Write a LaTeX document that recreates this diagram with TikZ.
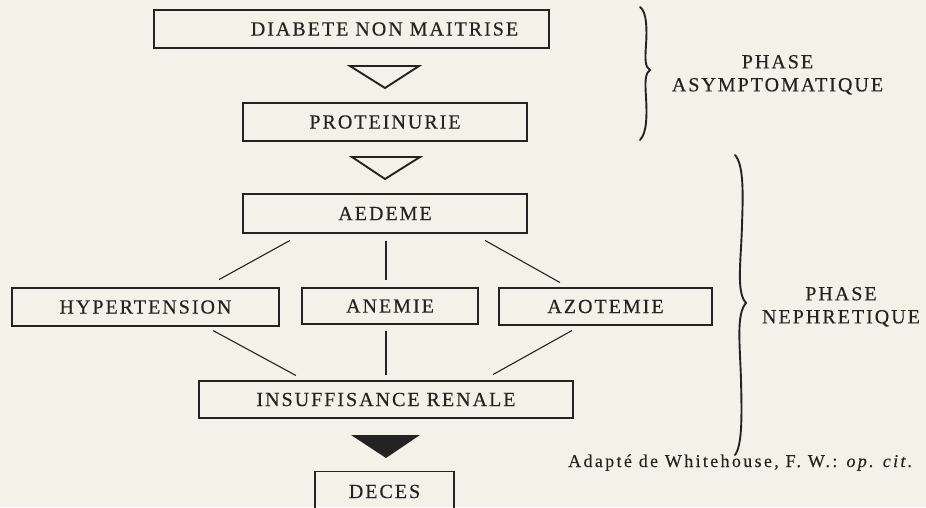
\documentclass[tikz,border=0pt]{standalone}
\usepackage{fontspec}
\setmainfont{Liberation Serif}
\newfontfamily\boxfont[LetterSpace=10,FakeBold=0.4]{Liberation Serif}
\newfontfamily\capfont[LetterSpace=13,FakeBold=0.3]{Liberation Serif}
\definecolor{paper}{RGB}{244,242,232}
\definecolor{ink}{RGB}{35,35,35}
\tikzset{
  box/.style={draw=ink, line width=1.2pt, rectangle, inner sep=0pt, text=ink,
    font=\boxfont\fontsize{20}{23}\selectfont},
  conn/.style={draw=ink, line width=1.1pt},
  tri/.style={draw=ink, line width=1.9pt, line join=miter},
  brace/.style={draw=ink, line width=1.9pt, line cap=round},
  phase/.style={text=ink, inner sep=0pt, anchor=base, font=\boxfont\fontsize{20}{23}\selectfont},
}
\begin{document}
\begin{tikzpicture}[x=1pt,y=-1pt]
\useasboundingbox (0,0) rectangle (926,507);
\fill[paper] (0,0) rectangle (926,507);

% boxes
\node[box, minimum width=395pt, minimum height=38pt] (diab) at (351.5,29) {\hspace*{66pt}DIABETE NON MAITRISE};
\node[box, minimum width=284pt, minimum height=38pt] (prot) at (385,122) {PROTEINURIE};
\node[box, minimum width=284pt, minimum height=39pt] (aed) at (385,213.5) {AEDEME};
\node[box, minimum width=267pt, minimum height=38pt] (hyp) at (145.5,307) {HYPERTENSION};
\node[box, minimum width=176pt, minimum height=36pt] (ane) at (390,306) {ANEMIE};
\node[box, minimum width=213pt, minimum height=37pt] (azo) at (605.5,306.5) {AZOTEMIE};
\node[box, minimum width=374pt, minimum height=37pt] (ins) at (386,399.5) {INSUFFISANCE RENALE};
\node[box, minimum width=139pt, minimum height=40pt] (dec) at (384.5,491.5) {DECES};

% triangles
\draw[tri] (350,66) -- (419,66) -- (385,88) -- cycle;
\draw[tri] (352,157) -- (420,157) -- (385,179) -- cycle;
\fill[ink] (351,435) -- (420,435) -- (386,458) -- cycle;

% connectors
\draw[conn, shorten <=14.3pt, shorten >=16.3pt] ([xshift=-82.6pt]aed.south) -- ([xshift=59.3pt]hyp.north);
\draw[conn, shorten <=7pt, shorten >=7pt] ([xshift=1pt]aed.south) -- ([xshift=-4pt]ane.north);
\draw[conn, shorten <=14.1pt, shorten >=10pt] ([xshift=87.8pt]aed.south) -- ([xshift=-36.8pt]azo.north);
\draw[conn, shorten <=8.3pt, shorten >=10.3pt] ([xshift=60.3pt]hyp.south) -- ([xshift=-81pt]ins.north);
\draw[conn, shorten <=6pt, shorten >=5pt] ([xshift=-4pt]ane.south) -- (ins.north);
\draw[conn, shorten <=10.1pt, shorten >=12.1pt] ([xshift=-24.7pt]azo.south) -- ([xshift=96.5pt]ins.north);

% braces
\draw[brace] (640,7) .. controls (647,12) and (647,30) .. (646,45)
  .. controls (645,60) and (645,67) .. (650,70)
  .. controls (645,73) and (645,82) .. (646,97)
  .. controls (647,115) and (647,133) .. (640,140);
\draw[brace] (735,155) .. controls (744,165) and (743,195) .. (742,225)
  .. controls (741,262) and (736,292) .. (746,303)
  .. controls (736,314) and (740,345) .. (741,380)
  .. controls (742,420) and (742,445) .. (735,455);

% phase labels
\node[phase] (pa1) at (777.5,68.3) {PHASE};
\node[phase] (pa2) at (777.5,91.3) {ASYMPTOMATIQUE};
\node[phase] (pn1) at (841,300.3) {PHASE};
\node[phase] (pn2) at (841,323.3) {NEPHRETIQUE};

% caption
\node[text=ink, inner sep=0pt, anchor=base west, font=\capfont\fontsize{18}{20}\selectfont] (cap) at (568,467)
  {Adapté de Whitehouse, F. W.: \textit{op. cit.}};
\end{tikzpicture}
\end{document}
